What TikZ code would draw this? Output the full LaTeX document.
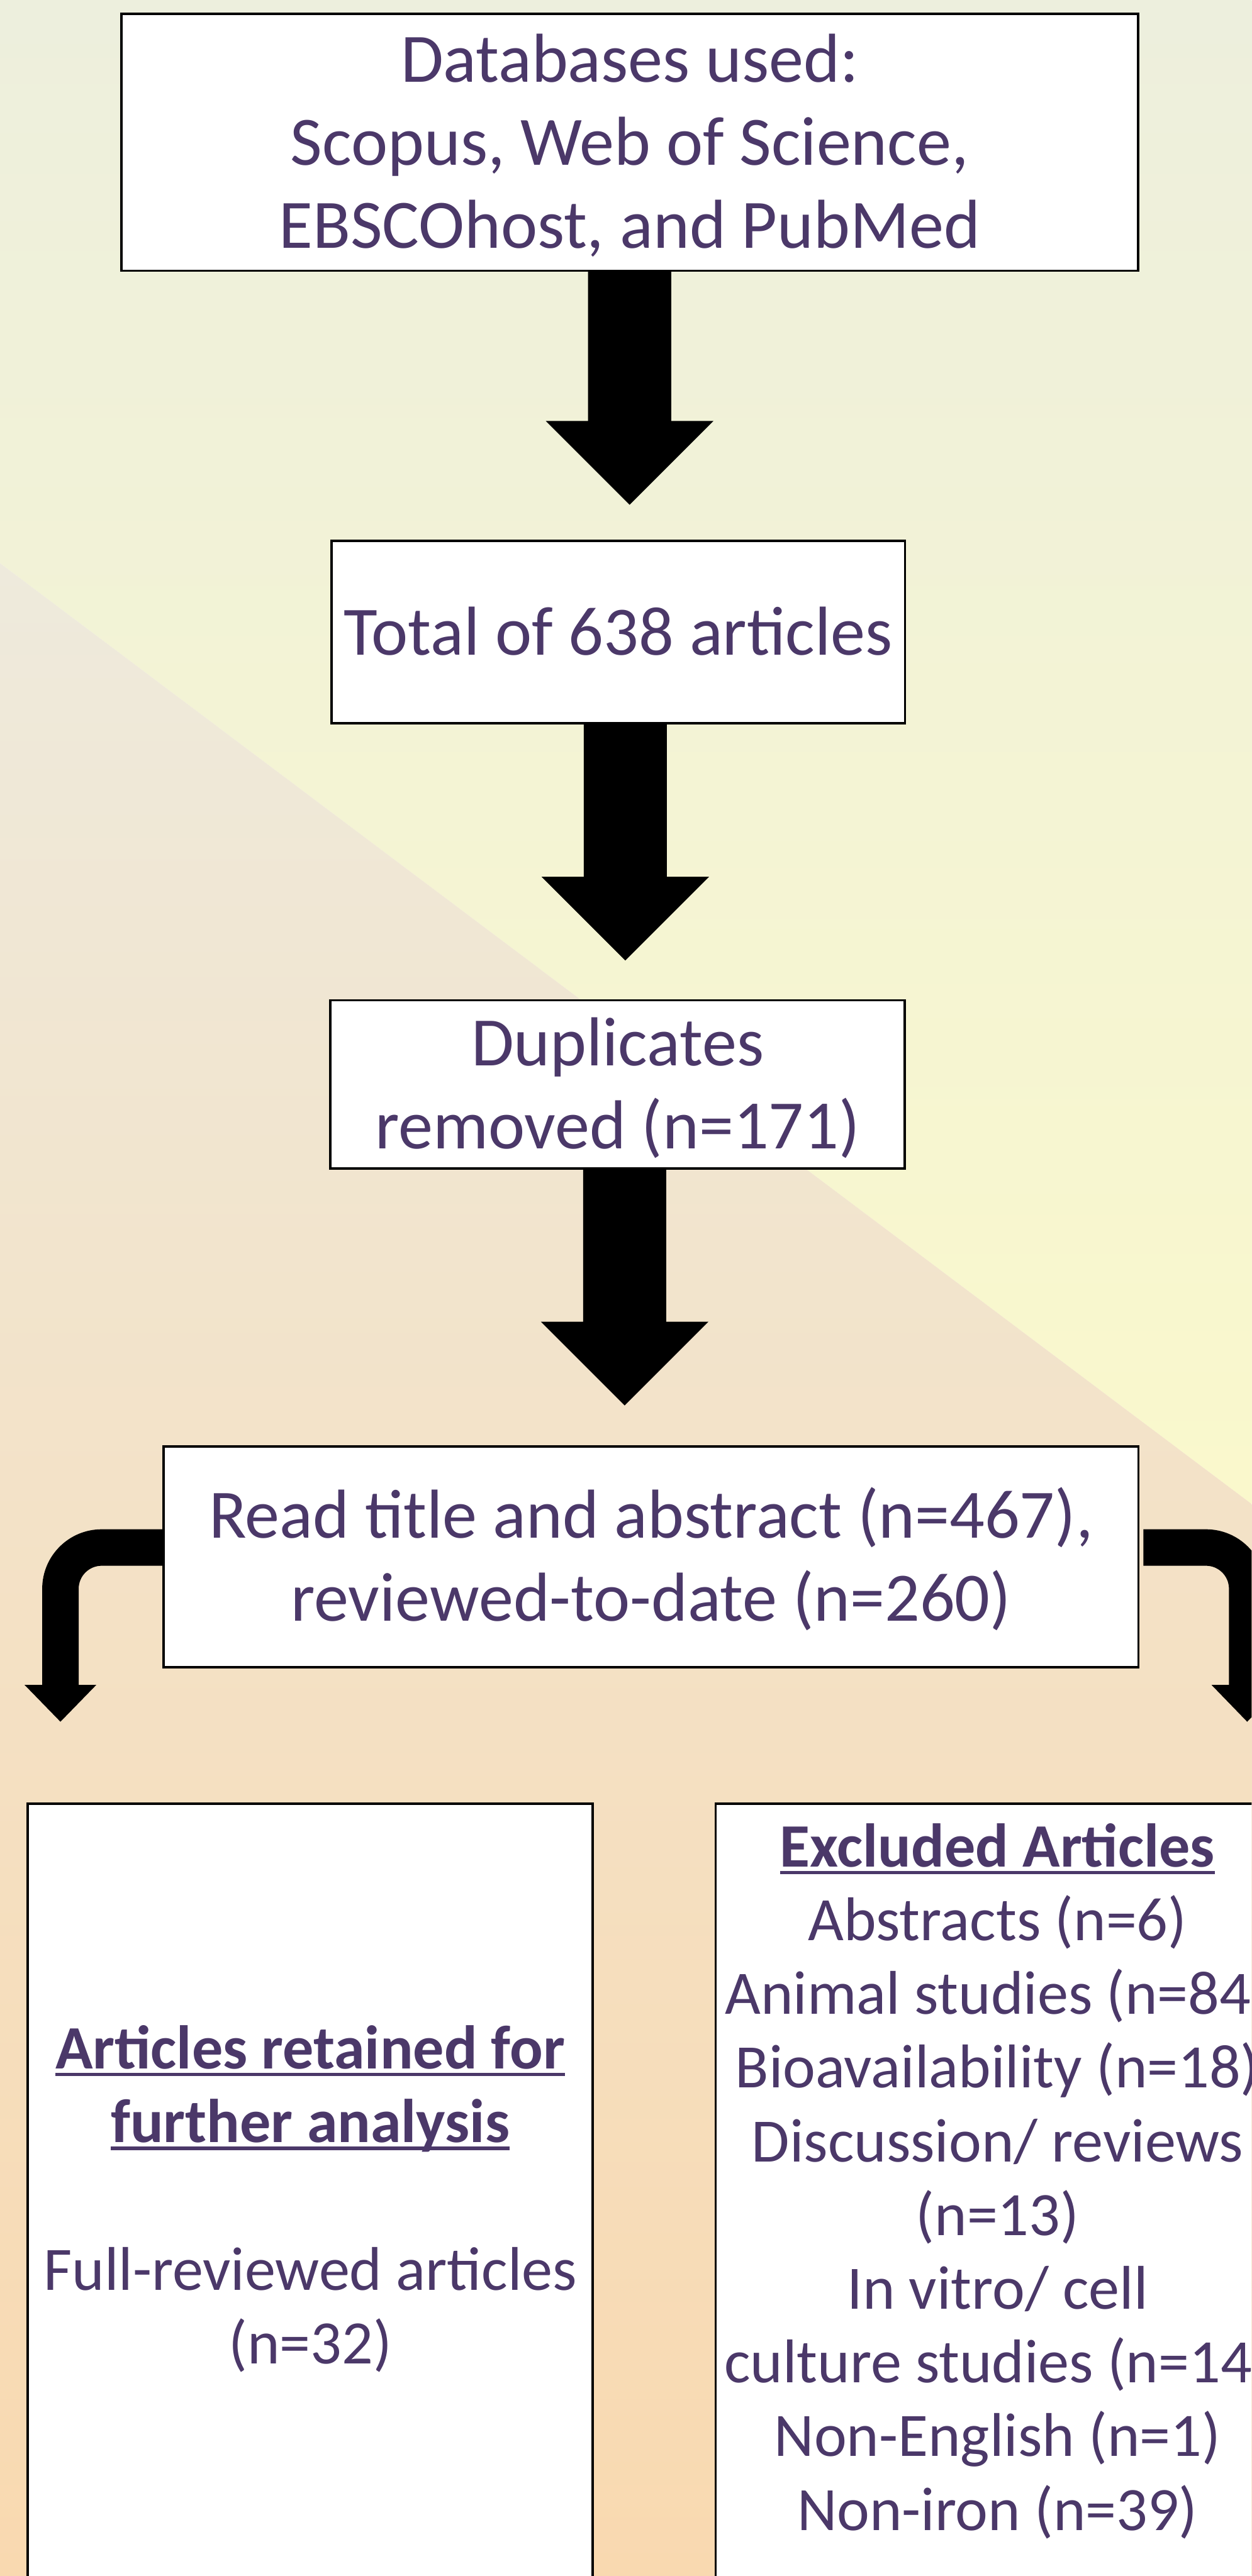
\documentclass[tikz,border=0pt]{standalone}
\usepackage{fontspec}
\setmainfont{Carlito}
\usetikzlibrary{calc}

\definecolor{txt}{HTML}{4B3869}
\definecolor{bgtop}{HTML}{EDEFDD}
\definecolor{bgmid}{HTML}{FAF8CC}
\definecolor{bglo}{HTML}{EEEADC}
\definecolor{bgbot}{HTML}{F9D9B0}

% struts that fix the height/depth of every text line
\newcommand{\bxstrut}{\rule[-9pt]{0pt}{45.6pt}}
\newcommand{\smbxstrut}{\rule[-8.1pt]{0pt}{41.1pt}}
% underline drawn at a fixed depth below the baseline
\newcommand{\ulword}[1]{\setbox0\hbox{#1}\rlap{\rule[-4.5pt]{\wd0}{2pt}}\box0}
% thick block arrow pointing straight down, from the bottom of #1 to tip #2
\newcommand{\blockarrow}[2]{%
  \fill[black] let \p1=(#1), \p2=(#2) in
    (\x2-25.3pt,\y1) -- (\x2-25.3pt,\y2+51pt) -- (\x2-51pt,\y2+51pt) --
    (\x2,\y2) -- (\x2+51pt,\y2+51pt) -- (\x2+25.3pt,\y2+51pt) --
    (\x2+25.3pt,\y1) -- cycle;}

\tikzset{
  box/.style={draw=black, line width=1.5pt, fill=white, inner sep=0pt,
    outer sep=0pt, align=center, text=txt},
  bigtext/.style={font=\fontsize{42.2pt}{50.5pt}\selectfont},
  smalltext/.style={font=\fontsize{37.6pt}{44.9pt}\selectfont},
}

\begin{document}
\begin{tikzpicture}[x=1pt,y=-1pt]
\useasboundingbox (0,0) rectangle (762,1568.9);
\clip (0,0) rectangle (762,1568.9);

% background panels
\shade[top color=bgtop, bottom color=bgmid]
  (0,0) -- (762,0) -- (762,916) -- (0,343) -- cycle;
\shade[top color=bglo, bottom color=bgbot]
  (0,343) -- (762,916) -- (762,1568.9) -- (0,1568.9) -- cycle;

% flow boxes
\node[box,bigtext,minimum width=619pt,minimum height=156.4pt] (b1) at (383.4,86.7)
  {\bxstrut Databases used:\\\bxstrut Scopus, Web of Science,\\\bxstrut EBSCOhost, and PubMed};
\node[box,bigtext,minimum width=349.2pt,minimum height=111.3pt] (b2) at (376.4,385)
  {\bxstrut Total of 638 articles};
\node[box,bigtext,minimum width=349.5pt,minimum height=102.4pt] (b3) at (376,660.4)
  {\bxstrut Duplicates\\\bxstrut removed (n=171)};
\node[box,bigtext,minimum width=593.4pt,minimum height=134.5pt] (b4) at (396.4,948.3)
  {\bxstrut Read title and abstract (n=467),\\\bxstrut reviewed-to-date (n=260)};

\node[box,smalltext,minimum width=343.8pt,minimum height=477.7pt] (b5) at (188.9,1337.35)
  {\smbxstrut\ulword{\textbf{Articles retained for}}\\
   \smbxstrut\ulword{\textbf{further analysis}}\\
   \smbxstrut\\
   \smbxstrut Full-reviewed articles\\
   \smbxstrut (n=32)};

\node[box,minimum width=343.2pt,minimum height=480pt,anchor=north] (b6) at (607.3,1098.5) {};
\node[smalltext,text=txt,align=center,inner sep=0pt,anchor=north] (x6) at ($(b6.north)+(0,5.2)$)
  {\smbxstrut\ulword{\textbf{Excluded Articles}}\\
   \smbxstrut Abstracts (n=6)\\
   \smbxstrut Animal studies (n=84)\\
   \smbxstrut Bioavailability (n=18)\\
   \smbxstrut Discussion/ reviews\\
   \smbxstrut (n=13)\\
   \smbxstrut In vitro/ cell\\
   \smbxstrut culture studies (n=14)\\
   \smbxstrut Non-English (n=1)\\
   \smbxstrut Non-iron (n=39)};

% straight down arrows
\coordinate (t1) at (383.3,307.4);
\coordinate (t2) at (380.7,585);
\coordinate (t3) at (380.3,856);
\blockarrow{b1.south}{t1}
\blockarrow{b2.south}{t2}
\blockarrow{b3.south}{t3}

% bent arrow to the retained articles
\fill[black] (b4.west |- 0,931.4) -- (61.9,931.4)
  arc[start angle=270,end angle=180,radius=36.2]
  -- (25.7,1026.2) -- (15,1026.2) -- (36.8,1048.6) -- (58.6,1026.2) -- (47.9,1026.2)
  -- (47.9,967.6) arc[start angle=180,end angle=270,radius=14]
  -- (b4.west |- 0,953.6) -- cycle;

% bent arrow to the excluded articles
\fill[black] ($(b4.east |- 0,931.4)+(3,0)$) -- (734.2,931.4)
  arc[start angle=270,end angle=360,radius=36.2]
  -- (770.4,1026.2) -- (781,1026.2) -- (759.3,1048.6) -- (737.6,1026.2) -- (748.2,1026.2)
  -- (748.2,967.6) arc[start angle=360,end angle=270,radius=14]
  -- ($(b4.east |- 0,953.6)+(3,0)$) -- cycle;
\end{tikzpicture}
\end{document}
